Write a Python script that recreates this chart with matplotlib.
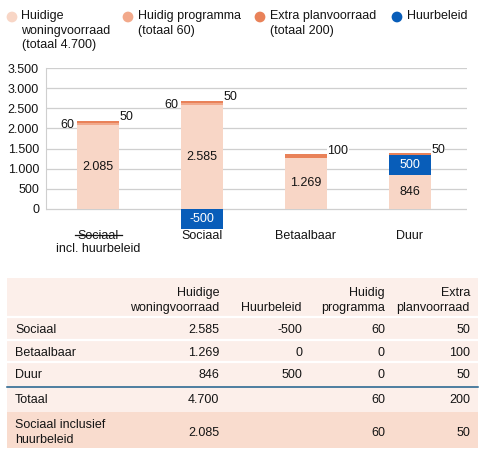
import matplotlib
matplotlib.use("Agg")
import matplotlib.pyplot as plt
from matplotlib.patches import Rectangle

plt.rcParams['font.family'] = ['Liberation Sans', 'DejaVu Sans']

# data
categories = ["Sociaal\nincl. huurbeleid", "Sociaal", "Betaalbaar", "Duur"]
woningvoorraad = [2085, 2585, 1269, 846]
huurbeleid = [0, -500, 0, 500]
programma = [60, 60, 0, 0]
planvoorraad = [50, 50, 100, 50]

legend_labels = ["Huidige\nwoningvoorraad\n(totaal 4.700)", "Huidig programma\n(totaal 60)",
                 "Extra planvoorraad\n(totaal 200)", "Huurbeleid"]

table_cols = ["Huidige\nwoningvoorraad", "Huurbeleid", "Huidig\nprogramma", "Extra\nplanvoorraad"]
table_rows = ["Sociaal", "Betaalbaar", "Duur"]
t_voorraad = [2585, 1269, 846]
t_huur = [-500, 0, 500]
t_prog = [60, 0, 0]
t_plan = [50, 100, 50]

c_base = '#F8D6C6'
c_prog = '#F2A98B'
c_plan = '#E98259'
c_huur = '#085DB9'
txt = '#141414'
FS = 9


def fmt(v):
    return f"{v:,}".replace(",", ".")


W, H = 484, 457
fig = plt.figure(figsize=(W / 100, H / 100), dpi=100)

# overlay in pixel coordinates for legend and table
ov = fig.add_axes([0, 0, 1, 1], zorder=0)
ov.set_xlim(0, W)
ov.set_ylim(H, 0)
ov.axis('off')

# chart
ax = fig.add_axes([46 / W, 1 - 228.8 / H, (467 - 46) / W, (228.8 - 68.3) / H], zorder=1)
ax.patch.set_alpha(0)
x = list(range(len(categories)))
bw = 0.41
huur_pos = [max(h, 0) for h in huurbeleid]
prog_bottom = [b + h for b, h in zip(woningvoorraad, huur_pos)]
plan_bottom = [p + q for p, q in zip(prog_bottom, programma)]

ax.bar(x, woningvoorraad, bw, color=c_base, zorder=2)
huur_bottom = [b if h > 0 else 0 for b, h in zip(woningvoorraad, huurbeleid)]
ax.bar(x, huurbeleid, bw, bottom=huur_bottom, color=c_huur, zorder=2)
ax.bar(x, programma, bw, bottom=prog_bottom, color=c_prog, zorder=2)
ax.bar(x, planvoorraad, bw, bottom=plan_bottom, color=c_plan, zorder=2)

for i in x:
    b = woningvoorraad[i]
    ax.text(i, b / 2, fmt(b), ha='center', va='center', fontsize=FS, color=txt, zorder=3)
    h = huurbeleid[i]
    if h != 0:
        ax.text(i, huur_bottom[i] + h / 2, fmt(h), ha='center', va='center',
                fontsize=FS, color='white', zorder=3)
    if programma[i]:
        ax.text(i - bw / 2 - 0.02, prog_bottom[i], fmt(programma[i]), ha='right', va='center',
                fontsize=FS, color=txt, zorder=3)
    if planvoorraad[i]:
        top = plan_bottom[i] + planvoorraad[i]
        ax.text(i + bw / 2, top + 80, fmt(planvoorraad[i]), ha='left', va='center',
                fontsize=FS, color=txt, zorder=3,
                bbox=dict(facecolor='white', edgecolor='none', pad=0.3))

ax.set_xlim(-0.5, 3.55)
ax.set_ylim(-500, 3500)
ticks = list(range(0, 3501, 500))
ax.set_yticks(ticks)
ax.set_yticklabels([fmt(t) for t in ticks], fontsize=FS, color=txt)
ax.set_xticks(x)
ax.set_xticklabels(categories, fontsize=FS, color=txt, linespacing=1.05)
ax.tick_params(length=0, pad=5)
ax.tick_params(axis='x', pad=1)
for t in ticks:
    ax.axhline(t, color='#CFCFCF', lw=0.9, zorder=1)
for s in ['top', 'right', 'bottom']:
    ax.spines[s].set_visible(False)
ax.spines['left'].set_color('#CFCFCF')
ax.spines['left'].set_bounds(0, 3500)

# strike line over first category label
ov.plot([75, 122], [235, 235], color=txt, lw=0.9)

# legend
leg_x = [12, 128, 260, 397]
leg_c = [c_base, c_prog, c_plan, c_huur]
for lx, lc, lab in zip(leg_x, leg_c, legend_labels):
    ov.scatter([lx], [17], s=60, color=lc, edgecolors='none')
    ov.text(lx + 9.5, 10, lab, ha='left', va='top', fontsize=FS, color=txt, linespacing=1.3)

# table
tx0, tx1 = 7, 478
ov.add_patch(Rectangle((tx0, 278), tx1 - tx0, 411.7 - 278, color='#FCEFEA', lw=0))
ov.add_patch(Rectangle((tx0, 411.7), tx1 - tx0, 448 - 411.7, color='#F9DCCE', lw=0))
for yy in [317, 339.5, 362]:
    ov.plot([tx0, tx1], [yy, yy], color='white', lw=1.6)
ov.plot([tx0, tx1], [386.7, 386.7], color='#1D5F8C', lw=1.1)

col_r = [219, 302, 385, 470]
for cr, lab in zip(col_r, table_cols):
    ov.text(cr, 314, lab, ha='right', va='bottom', fontsize=FS, color=txt, linespacing=1.35)

row_y = [330, 352.5, 375.5]
cols = [t_voorraad, t_huur, t_prog, t_plan]
for r, (name, ry) in enumerate(zip(table_rows, row_y)):
    ov.text(15, ry, name, ha='left', va='center', fontsize=FS, color=txt)
    for cr, col in zip(col_r, cols):
        ov.text(cr, ry, fmt(col[r]), ha='right', va='center', fontsize=FS, color=txt)

totals = [sum(t_voorraad), None, sum(t_prog), sum(t_plan)]
ov.text(15, 400, "Totaal", ha='left', va='center', fontsize=FS, color=txt)
for cr, v in zip(col_r, totals):
    if v is not None:
        ov.text(cr, 400, fmt(v), ha='right', va='center', fontsize=FS, color=txt)

incl = [t_voorraad[0] + t_huur[0], None, t_prog[0], t_plan[0]]
ov.text(15, 432.5, "Sociaal inclusief\nhuurbeleid", ha='left', va='center', fontsize=FS,
        color=txt, linespacing=1.35)
for cr, v in zip(col_r, incl):
    if v is not None:
        ov.text(cr, 432.5, fmt(v), ha='right', va='center', fontsize=FS, color=txt)

fig.savefig("out.png", dpi=100)
